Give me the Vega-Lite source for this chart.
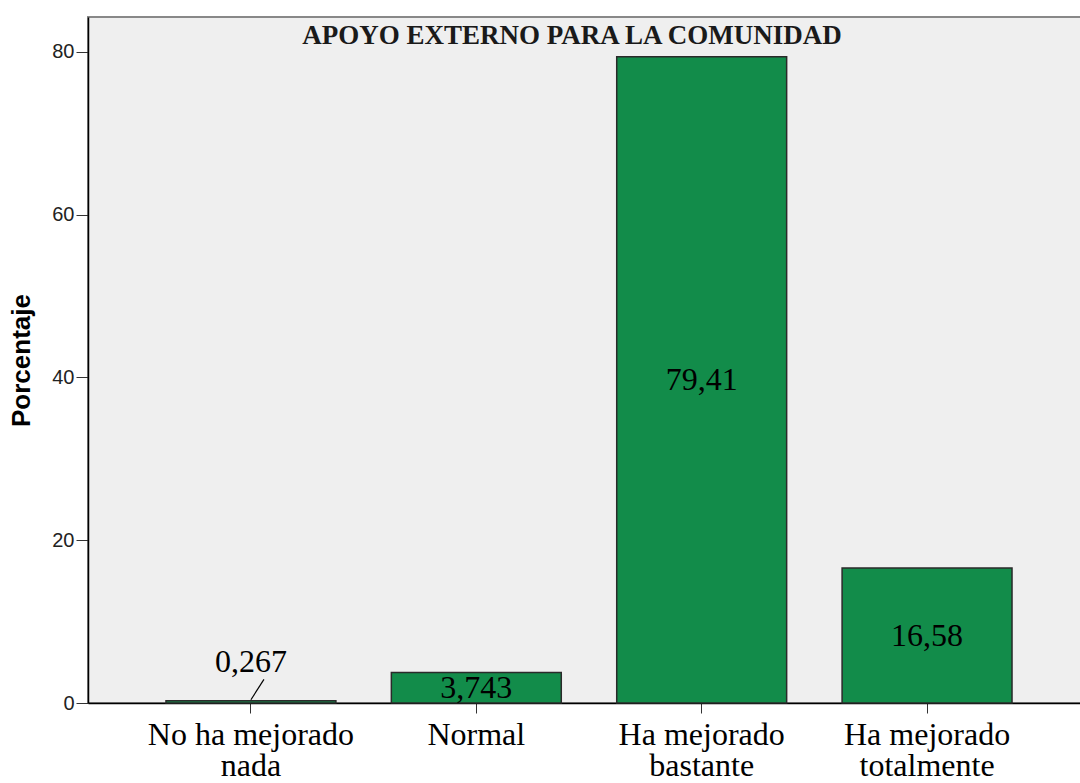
{
  "$schema": "https://vega.github.io/schema/vega-lite/v6.json",
  "autosize": {"type": "none"},
  "padding": {"left": 88, "top": 17, "right": 0, "bottom": 80},
  "width": 1002,
  "height": 686,
  "background": "#ffffff",
  "title": {
    "text": "APOYO EXTERNO PARA LA COMUNIDAD",
    "font": "Liberation Serif",
    "fontSize": 27,
    "fontWeight": "bold",
    "color": "#1a1a1a",
    "anchor": "middle",
    "dx": -17,
    "offset": -54,
    "baseline": "alphabetic"
  },
  "data": {
    "values": [
      {"cat": "No ha mejorado nada", "pct": 0.267},
      {"cat": "Normal", "pct": 3.743},
      {"cat": "Ha mejorado bastante", "pct": 79.41},
      {"cat": "Ha mejorado totalmente", "pct": 16.58}
    ]
  },
  "encoding": {
    "x": {
      "field": "cat",
      "type": "nominal",
      "sort": null,
      "scale": {"paddingInner": 0.246, "paddingOuter": 0.346},
      "axis": {
        "title": null,
        "labelAngle": 0,
        "labelFont": "Liberation Serif",
        "labelFontSize": 32,
        "labelColor": "#000000",
        "labelLineHeight": 31,
        "labelPadding": 6,
        "labelLimit": 0,
        "labelExpr": "length(datum.label) > 10 ? [substring(datum.label, 0, lastindexof(datum.label, ' ')), substring(datum.label, lastindexof(datum.label, ' ') + 1)] : datum.label",
        "tickSize": 10,
        "tickColor": "#333333",
        "domainColor": "#000000",
        "domainWidth": 1.5,
        "labelOverlap": false
      }
    }
  },
  "layer": [
    {
      "mark": {"type": "bar", "color": "#128C4A", "stroke": "#2a2a2a", "strokeWidth": 1.5},
      "encoding": {
        "y": {
          "field": "pct",
          "type": "quantitative",
          "scale": {"domain": [0, 84.3], "nice": false},
          "axis": {
            "title": "Porcentaje",
            "titleFont": "Liberation Sans",
            "titleFontSize": 26,
            "titleFontWeight": "bold",
            "titleColor": "#000000",
            "titlePadding": 17,
            "values": [0, 20, 40, 60, 80],
            "labelFont": "Liberation Sans",
            "labelFontSize": 20,
            "labelColor": "#222222",
            "labelPadding": 2,
            "tickSize": 12,
            "tickColor": "#333333",
            "domainColor": "#000000",
            "domainWidth": 1.5,
            "grid": false
          }
        }
      }
    },
    {
      "transform": [{"filter": "datum.pct >= 1"}, {"calculate": "datum.pct / 2", "as": "mid"}],
      "mark": {"type": "text", "font": "Liberation Serif", "fontSize": 32, "color": "#000000", "baseline": "middle"},
      "encoding": {
        "y": {"field": "mid", "type": "quantitative"},
        "text": {"field": "pct", "type": "quantitative", "format": ".4~r"}
      }
    },
    {
      "transform": [{"filter": "datum.pct < 1"}],
      "mark": {"type": "text", "font": "Liberation Serif", "fontSize": 32, "color": "#000000", "baseline": "middle"},
      "encoding": {
        "y": {"datum": 5},
        "text": {"field": "pct", "type": "quantitative", "format": ".4~r"}
      }
    },
    {
      "transform": [{"filter": "datum.pct < 1"}],
      "mark": {"type": "rule", "color": "#000000", "strokeWidth": 1.2, "x2Offset": 13},
      "encoding": {
        "x": {"field": "cat", "type": "nominal", "sort": null, "bandPosition": 0.5},
        "x2": {"field": "cat", "bandPosition": 0.5},
        "y": {"datum": 0.4},
        "y2": {"datum": 2.9}
      }
    }
  ],
  "config": {
    "locale": {"number": {"decimal": ",", "thousands": ".", "grouping": [3], "currency": ["", " €"]}},
    "view": {"fill": "#EFEFEF", "stroke": "#888888", "strokeWidth": 2}
  }
}
